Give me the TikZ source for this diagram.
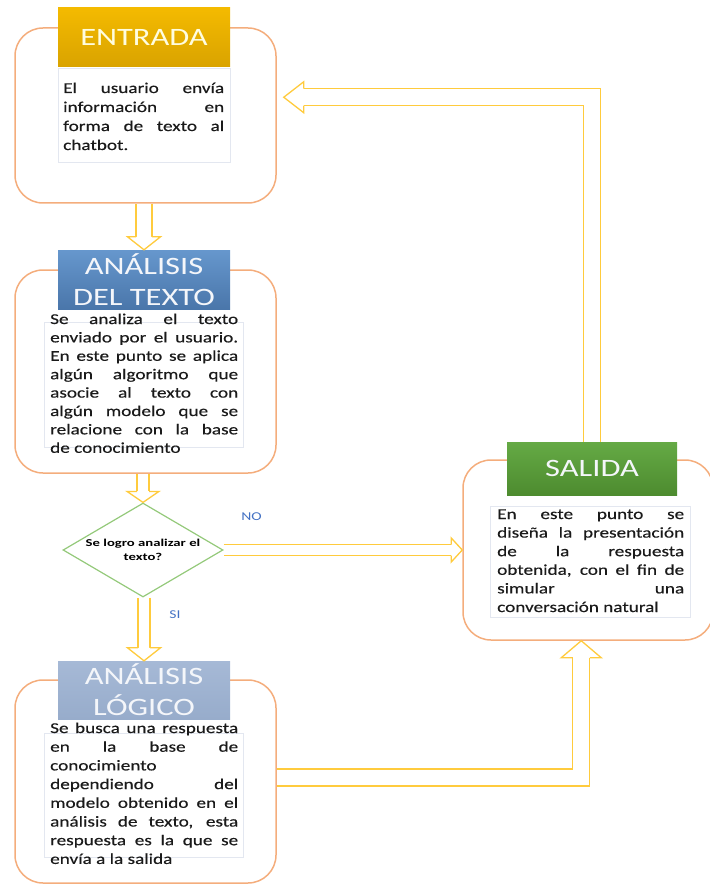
\documentclass[tikz,border=0pt]{standalone}
\usepackage{fontspec}
\setmainfont{Carlito}
\newfontfamily\bodyfont[FakeStretch=1.28,FakeBold=0.35]{Carlito}
\newfontfamily\headfont[FakeStretch=1.3]{Carlito}
\newfontfamily\askfont[FakeStretch=1.4]{Carlito}
\usetikzlibrary{shapes.geometric,calc}

\definecolor{boxline}{HTML}{F4AD7C}
\definecolor{arrowcol}{HTML}{FFCB3D}
\definecolor{noteline}{HTML}{E3E7F0}
\definecolor{bodytext}{HTML}{1A1A1A}
\definecolor{entradaA}{HTML}{F4BA00}
\definecolor{entradaB}{HTML}{D9A300}
\definecolor{textoA}{HTML}{6697CD}
\definecolor{textoB}{HTML}{4A76AA}
\definecolor{logicoA}{HTML}{A6B9D6}
\definecolor{logicoB}{HTML}{97ACCB}
\definecolor{salidaA}{HTML}{65AA45}
\definecolor{salidaB}{HTML}{4D8B2F}
\definecolor{decision}{HTML}{94C97A}
\definecolor{tagblue}{HTML}{4472C4}
\definecolor{headtext}{HTML}{F4F6FA}

\pgfdeclarelayer{back}
\pgfsetlayers{back,main}

\tikzset{
  stage/.style={draw=boxline, line width=1.5pt, rounded corners=28pt,
    minimum width=261pt, inner sep=0pt},
  header/.style={minimum width=172pt, inner sep=0pt, align=center,
    font=\headfont\fontsize{25}{31}\selectfont, text=headtext},
  notebox/.style={draw=noteline, line width=0.6pt, fill=white,
    anchor=north west, inner sep=0pt},
  note/.style={anchor=base west, inner sep=0pt, align=justify,
    text=bodytext, font=\bodyfont\fontsize{15}{18.7}\selectfont},
  shaft/.style={draw=arrowcol, line width=1.3pt, double=white,
    double distance=#1},
  headline/.style={draw=arrowcol, line width=1.3pt, fill=white,
    line join=miter},
  tag/.style={text=tagblue, inner sep=0pt,
    font=\headfont\fontsize{12}{14}\selectfont}
}

% open block-arrow head: #1 tip, #2 direction, #3 half shaft, #4 half head, #5 length
\newcommand\blockhead[5]{%
  \filldraw[headline, shift={(#1)}, rotate=#2]
    (-#5,#3) -- (-#5,#4) -- (0,0) -- (-#5,-#4) -- (-#5,-#3);}

\begin{document}
\begin{tikzpicture}[x=1pt,y=1pt]
\useasboundingbox (0,0) rectangle (709,-885);

% stage frames
\node[stage, minimum height=175pt] (entrada) at (145.5,-115.5) {};
\node[stage, minimum height=203pt] (analisis) at (145.5,-371.5) {};
\node[stage, minimum height=203pt] (logico) at (145.5,-781.5) {};
\node[stage, minimum width=250pt, minimum height=180pt] (salida) at (588,-550) {};

% note backgrounds
\node[notebox, minimum width=172pt, minimum height=94pt] (entradabox) at (58,-68) {};
\node[notebox, minimum width=199pt, minimum height=125pt] (analisisbox) at (44,-322) {};
\node[notebox, minimum width=199pt, minimum height=124pt] (logicobox) at (44,-733) {};
\node[notebox, minimum width=200pt, minimum height=111pt] (salidabox) at (490,-506) {};

% headers
\node[header, minimum height=59pt, top color=entradaA, bottom color=entradaB,
  text=white!88!yellow] (entradahd) at (144,-37.5) {ENTRADA};
\node[header, minimum height=59pt, top color=textoA, bottom color=textoB]
  (textohd) at (144,-279.5) {ANÁLISIS\\DEL TEXTO};
\node[header, minimum height=58pt, top color=logicoA, bottom color=logicoB]
  (logicohd) at (144,-690) {ANÁLISIS\\LÓGICO};
\node[header, minimum width=170pt, minimum height=53pt, top color=salidaA,
  bottom color=salidaB] (salidahd) at (592,-468.5) {SALIDA};

% descriptions
\node[note, text width=161pt, font=\bodyfont\fontsize{15}{19}\selectfont]
  (entradanote) at (63,-93)
  {El usuario envía\linebreak información en\linebreak forma de texto al\linebreak chatbot.};
\node[note, text width=188pt, font=\bodyfont\fontsize{15}{18.4}\selectfont]
  (analisisnote) at (50,-324)
  {Se analiza el texto\linebreak enviado por el usuario.\linebreak En este punto se aplica\linebreak algún algoritmo que\linebreak asocie al texto con\linebreak algún modelo que se\linebreak relacione con la base\linebreak de conocimiento};
\node[note, text width=188pt] (logiconote) at (50,-733)
  {Se busca una respuesta\linebreak en la base de\linebreak conocimiento\linebreak dependiendo del\linebreak modelo obtenido en el\linebreak análisis de texto, esta\linebreak respuesta es la que se\linebreak envía a la salida};
\node[note, text width=187pt, font=\bodyfont\fontsize{15}{18.6}\selectfont]
  (salidanote) at (497,-519)
  {En este punto se\linebreak diseña la presentación\linebreak de la respuesta\linebreak obtenida, con el fin de\linebreak simular una\linebreak conversación natural};

% decision
\node[draw=decision, line width=1.2pt, shape=diamond, minimum width=160pt,
  minimum height=94pt, inner sep=0pt] (q) at (143,-550) {};
\node[align=center, inner sep=0pt, text=black,
  font=\askfont\bfseries\fontsize{10.5}{13.5}\selectfont] (qtext) at (q.center)
  {Se logro analizar el\\texto?};
\node[tag] (no) at (251.5,-517) {NO};
\node[tag] (si) at (175,-615) {SI};

% connectors
\coordinate (backtip) at ($(entrada.north east)+(7,-70)$);
\coordinate (uptip) at ($(salida.south west)+(119,0)$);
\begin{pgfonlayer}{back}
  \draw[shaft=14.7pt] (textohd.north |- entrada.south) -- ($(textohd.north)+(0,13)$);
  \draw[shaft=10.7pt] (q.north |- analisis.south) -- ($(q.north)+(0,11)$);
  \draw[shaft=10.7pt] (logicohd.north |- q.south) -- ($(logicohd.north)+(0,13)$);
  \draw[shaft=9.7pt] (q.east) -- ($(salida.west)+(-11,0)$);
  \draw[shaft=15.7pt] (salidahd.north) |- ($(backtip)+(20,0)$);
  \draw[shaft=15.7pt] ($(logico.east)+(0,4)$) -| ($(uptip)+(0,-17)$);
\end{pgfonlayer}
\blockhead{textohd.north}{-90}{8}{16.5}{13}
\blockhead{q.north}{-90}{6}{16}{11}
\blockhead{logicohd.north}{-90}{6}{16.5}{13}
\blockhead{salida.west}{0}{5.5}{12}{11}
\blockhead{backtip}{180}{8.5}{15.5}{20}
\blockhead{uptip}{90}{8.5}{20}{17}
\end{tikzpicture}
\end{document}
